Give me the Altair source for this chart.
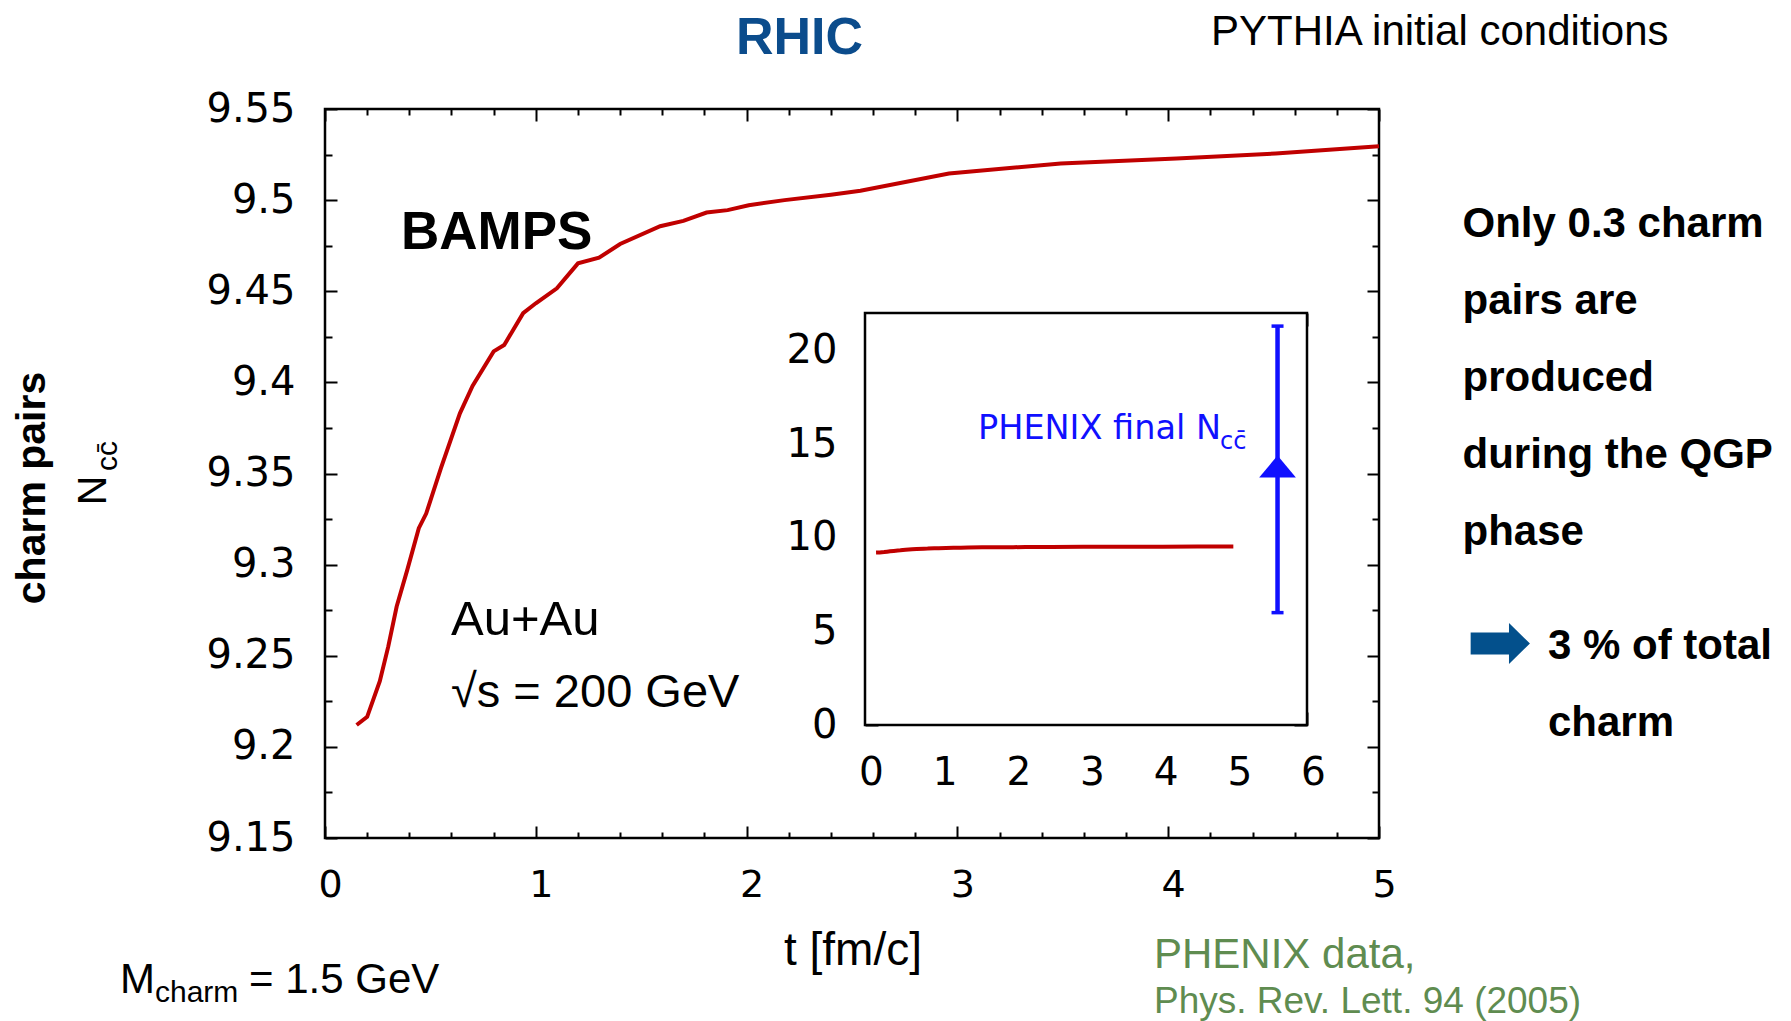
import altair as alt
import pandas as pd

# ---------------- data ----------------
t_fm = [0.15, 0.20, 0.26, 0.30, 0.34, 0.39, 0.445, 0.48, 0.55, 0.64, 0.70, 0.80,
        0.85, 0.94, 1.00, 1.10, 1.20, 1.30, 1.40, 1.59, 1.70, 1.81, 1.91, 2.01,
        2.18, 2.40, 2.54, 2.96, 3.49, 4.04, 4.51, 5.00]
n_cc = [9.212, 9.2165, 9.236, 9.255, 9.277, 9.297, 9.320, 9.328, 9.353, 9.383,
        9.398, 9.417, 9.4205, 9.438, 9.4434, 9.4516, 9.4653, 9.4684, 9.4759,
        9.4857, 9.4886, 9.4932, 9.4945, 9.4972, 9.500, 9.503, 9.5051, 9.5146,
        9.5201, 9.5228, 9.5256, 9.5295]

phenix_t = [5.6]
phenix_n = [13.8]
phenix_lo = [6.0]
phenix_hi = [21.3]

main_x_domain = [0, 5]
main_y_domain = [9.15, 9.55]
main_x_major = [0, 1, 2, 3, 4, 5]
main_x_minor = [0.2, 0.4, 0.6, 0.8, 1.2, 1.4, 1.6, 1.8, 2.2, 2.4, 2.6, 2.8,
                3.2, 3.4, 3.6, 3.8, 4.2, 4.4, 4.6, 4.8]
main_y_major = [9.15, 9.2, 9.25, 9.3, 9.35, 9.4, 9.45, 9.5, 9.55]
main_y_minor = [9.175, 9.225, 9.275, 9.325, 9.375, 9.425, 9.475, 9.525]

inset_x_domain = [0, 6]
inset_y_domain = [0, 22]
inset_x_major = [0, 1, 2, 3, 4, 5, 6]
inset_x_minor = [0.2, 0.4, 0.6, 0.8, 1.2, 1.4, 1.6, 1.8, 2.2, 2.4, 2.6, 2.8,
                 3.2, 3.4, 3.6, 3.8, 4.2, 4.4, 4.6, 4.8, 5.2, 5.4, 5.6, 5.8]
inset_y_major = [0, 5, 10, 15, 20]
inset_y_minor = [2.5, 7.5, 12.5, 17.5]

# ---------------- layout ----------------
W, H = 1054, 729
INSET_X = [540, 982]
INSET_Y = [616, 204]
RED = "#C00000"
BLUE = "#1010FF"
SANS = "Liberation Sans"
WIDE = "DejaVu Sans"

df = pd.DataFrame({"t": t_fm, "n": n_cc})
frame_df = pd.DataFrame({"x0": [inset_x_domain[0]], "x1": [inset_x_domain[1]],
                         "y0": [inset_y_domain[0]], "y1": [inset_y_domain[1]]})
ph_df = pd.DataFrame({"t": phenix_t, "n": phenix_n, "lo": phenix_lo, "hi": phenix_hi})
cap_df = pd.DataFrame({"t": phenix_t * 2, "v": phenix_lo + phenix_hi})

xs_main = alt.Scale(domain=main_x_domain, nice=False, zero=False)
ys_main = alt.Scale(domain=main_y_domain, nice=False, zero=False)
xs_in = alt.Scale(domain=inset_x_domain, range=INSET_X, nice=False, zero=False)
ys_in = alt.Scale(domain=inset_y_domain, range=INSET_Y, nice=False, zero=False)


def ax(orient, values, size, offset, labels=False, **kw):
    return alt.Axis(orient=orient, values=values, tickSize=size, offset=offset,
                    labels=labels, domain=False, grid=False, ticks=True,
                    tickColor="black", tickWidth=2, labelFlush=False,
                    labelOverlap=False, labelColor="black", **kw)


def main_line(xaxis, yaxis, opacity):
    return alt.Chart(df).mark_line(color=RED, strokeWidth=4, opacity=opacity).encode(
        x=alt.X("t:Q", scale=xs_main, axis=xaxis, title=None),
        y=alt.Y("n:Q", scale=ys_main, axis=yaxis, title=None),
    )


L1 = main_line(
    ax("bottom", main_x_major, 12, -12, True, labelFont=WIDE, labelFontSize=38,
       labelPadding=28, labelOffset=5, format="d"),
    ax("left", main_y_major, 12, -12, True, labelFont=WIDE, labelFontSize=40,
       labelPadding=30, format=".2~f"),
    1,
)
L2 = main_line(ax("bottom", main_x_minor, 6, -6), ax("left", main_y_minor, 7, -7), 0)
L3 = main_line(ax("top", main_x_major, 12, -12), ax("right", main_y_major, 12, -12), 0)
L4 = main_line(ax("top", main_x_minor, 6, -6), ax("right", main_y_minor, 7, -7), 0)

# ---------------- inset ----------------
I1 = alt.Chart(frame_df).mark_rect(fill="white", stroke="black", strokeWidth=2.5).encode(
    x=alt.X("x0:Q", scale=xs_in, title=None,
            axis=ax("bottom", inset_x_major, 13, -(H - INSET_Y[0]) - 13, True,
                    labelFont=WIDE, labelFontSize=39, labelPadding=28,
                    labelOffset=6, format="d")),
    x2="x1:Q",
    y=alt.Y("y0:Q", scale=ys_in, title=None,
            axis=ax("left", inset_y_major, 13, -(INSET_X[0] + 13), True,
                    labelFont=WIDE, labelFontSize=40, labelPadding=28, format="d")),
    y2="y1:Q",
)
I2 = alt.Chart(df).mark_line(color=RED, strokeWidth=4).encode(
    x=alt.X("t:Q", scale=xs_in, title=None,
            axis=ax("bottom", inset_x_minor, 6, -(H - INSET_Y[0]) - 6)),
    y=alt.Y("n:Q", scale=ys_in, title=None,
            axis=ax("left", inset_y_minor, 6, -(INSET_X[0] + 6))),
)
I3 = alt.Chart(ph_df).mark_rule(color=BLUE, strokeWidth=4.5).encode(
    x=alt.X("t:Q", scale=xs_in, title=None,
            axis=ax("top", inset_x_major, 13, -(INSET_Y[1] + 13))),
    y=alt.Y("lo:Q", scale=ys_in, title=None,
            axis=ax("right", inset_y_major, 13, (INSET_X[1] - 13) - W)),
    y2="hi:Q",
)
I4 = alt.Chart(ph_df).mark_point(
    shape="M0,-0.6L1,0.6L-1,0.6Z", size=1347, filled=True, color=BLUE, opacity=1
).encode(
    x=alt.X("t:Q", scale=xs_in, title=None,
            axis=ax("top", inset_x_minor, 6, -(INSET_Y[1] + 6))),
    y=alt.Y("n:Q", scale=ys_in, title=None,
            axis=ax("right", inset_y_minor, 6, (INSET_X[1] - 6) - W)),
)
I5 = alt.Chart(cap_df).mark_tick(orient="horizontal", size=12, thickness=3.5,
                                 color=BLUE, opacity=1).encode(
    x=alt.X("t:Q", scale=xs_in, axis=None),
    y=alt.Y("v:Q", scale=ys_in, axis=None),
)

# ---------------- text annotations ----------------
one = pd.DataFrame({"k": [0]})


def txt(text, x, y, size, align="left", baseline="alphabetic", font=SANS,
        weight="normal", color="black", angle=0, line_height=None):
    kw = dict(text=text, fontSize=size, align=align, baseline=baseline, font=font,
              fontWeight=weight, color=color, angle=angle)
    if line_height is not None:
        kw["lineHeight"] = line_height
    return alt.Chart(one).mark_text(**kw).encode(x=alt.value(x), y=alt.value(y))


texts = [
    txt("RHIC", 474.5, -55, 52, align="center", weight="bold", color="#0B4C8C"),
    txt("PYTHIA initial conditions", 886, -64.5, 42),
    txt("BAMPS", 76, 140, 53, weight="bold"),
    txt("Au+Au", 126, 526, 49),
    txt("\u221as = 200 GeV", 126, 597.5, 47),
    txt("t [fm/c]", 528, 856, 46, align="center"),
    txt("M", -205, 884, 42),
    txt("charm", -170, 893, 30),
    txt("= 1.5 GeV", -76, 884, 42),
    txt("PHENIX data,", 829, 859, 42, color="#5F8C50"),
    txt("Phys. Rev. Lett. 94 (2005)", 829, 904, 37, color="#5F8C50"),
    txt(["Only 0.3 charm", "pairs are", "produced", "during the QGP", "phase"],
        1137.5, 127.5, 42, weight="bold", line_height=77),
    txt(["3 % of total", "charm"], 1223, 550, 42, weight="bold", line_height=77),
    txt("PHENIX final N", 653, 329.5, 33.5, font=WIDE, color=BLUE),
    txt("cc\u0304", 895, 340, 24, font=WIDE, color=BLUE),
    txt("charm pairs", -292, 379, 41, align="center", baseline="middle",
        weight="bold", angle=270),
    txt("N", -231.5, 381.5, 41, align="center", baseline="middle", angle=270),
    txt("cc\u0304", -217, 347, 30, align="center", baseline="middle", angle=270),
]

arrow = alt.Chart(one).mark_point(
    shape="M-1,-0.368L0.293,-0.368L0.293,-0.691L1,0L0.293,0.691L0.293,0.368L-1,0.368Z",
    size=3516, filled=True, color="#03508C", opacity=1,
).encode(x=alt.value(1175.3), y=alt.value(534.5))

chart = alt.layer(
    L1, L2, L3, L4, I1, I2, I3, I4, I5, arrow, *texts
).resolve_scale(x="independent", y="independent").resolve_axis(
    x="independent", y="independent"
).properties(
    width=W, height=H,
    padding={"left": 317, "top": 101, "right": 400, "bottom": 183},
    autosize=alt.AutoSizeParams(type="none"),
).configure_view(stroke="black", strokeWidth=2.5)

chart.save("out.html", embed_options={"renderer": "svg", "actions": False})
